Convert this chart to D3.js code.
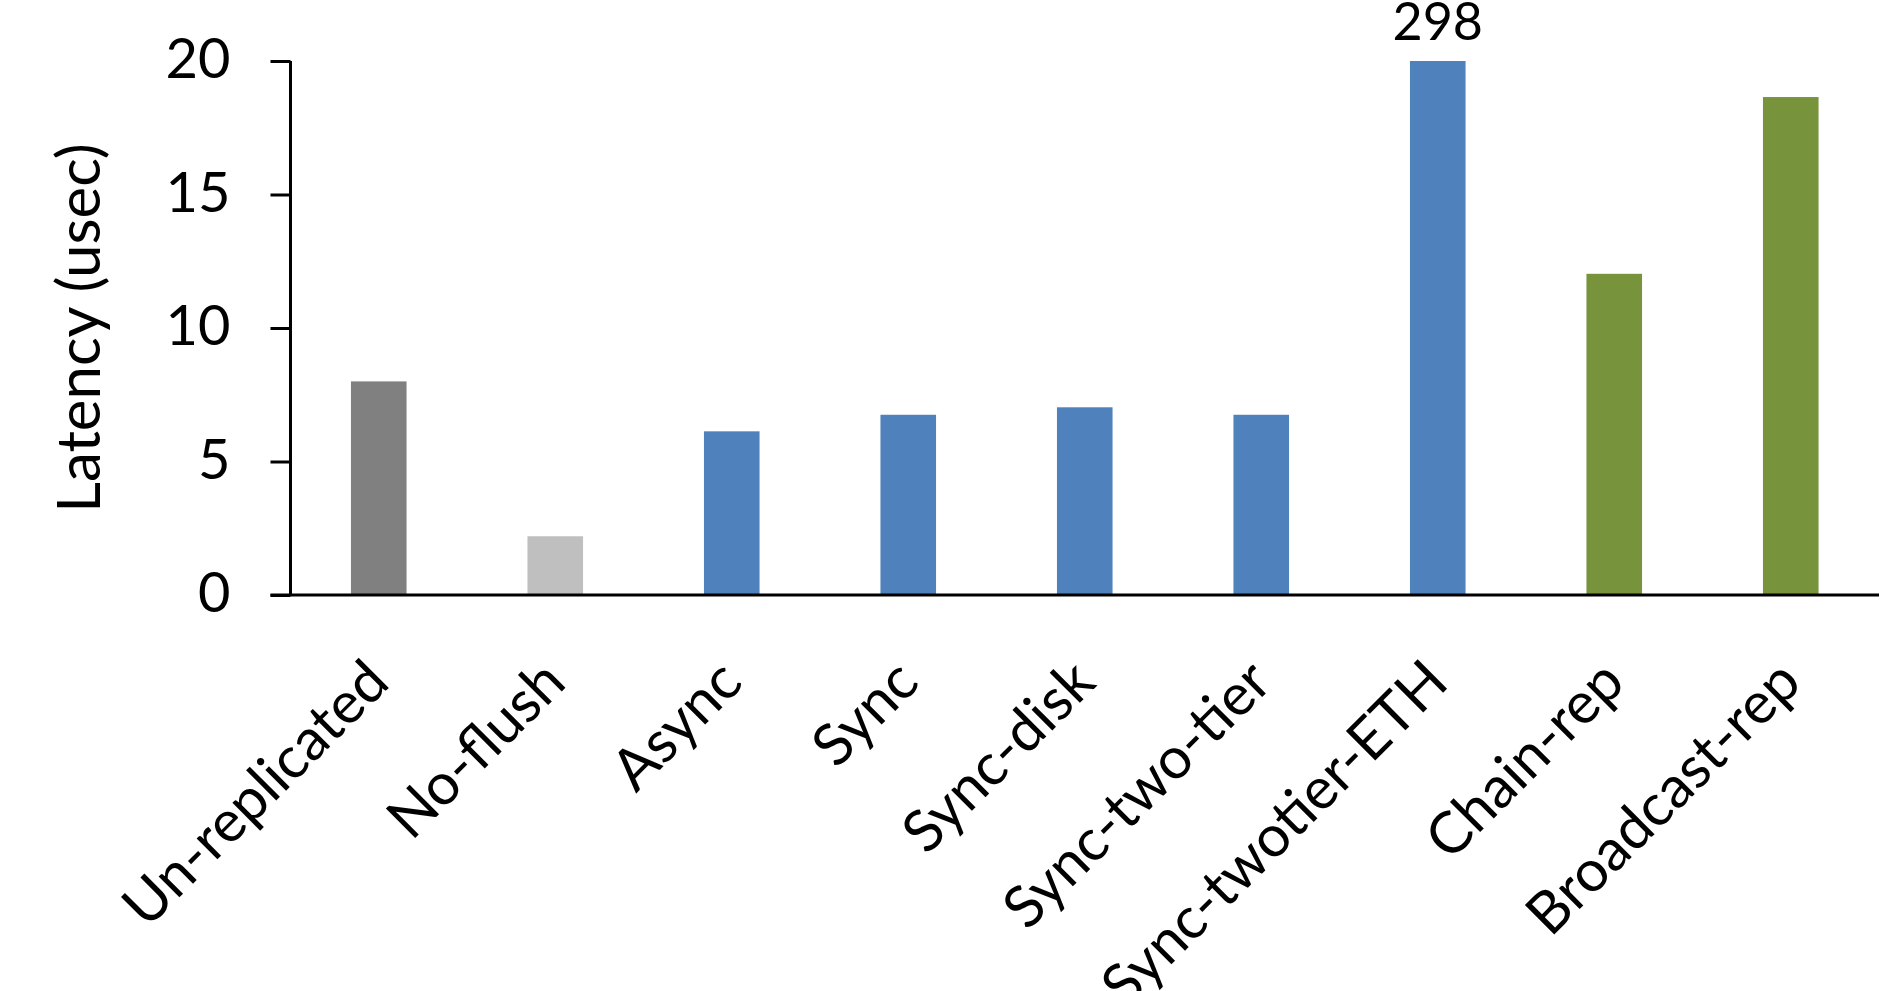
<!DOCTYPE html>
<html>
<head>
<meta charset="utf-8">
<script src="https://cdn.jsdelivr.net/npm/d3@7"></script>
<style>
  body { margin: 0; background: #fff; }
  text { font-family: Lato, "Open Sans", sans-serif; fill: #000; }
</style>
</head>
<body>
<div id="chart"></div>
<script>
// categories and values (latency, usec)
const categories = ["Un-replicated", "No-flush", "Async", "Sync", "Sync-disk",
  "Sync-two-tier", "Sync-twotier-ETH", "Chain-rep", "Broadcast-rep"];
const latency = [8.0, 2.2, 6.13, 6.75, 7.03, 6.75, 20, 12.03, 18.65];
const groups = ["base", "noflush", "sync", "sync", "sync", "sync", "sync", "rep", "rep"];
const barLabels = ["", "", "", "", "", "", "298", "", ""];
const yTicks = [0, 5, 10, 15, 20];

const colors = {base: "#808080", noflush: "#bfbfbf", sync: "#4f81bd", rep: "#77933c"};

const width = 1901, height = 991;
const margin = {top: 61, right: 22, bottom: 396, left: 290.5};
const w = width - margin.left - margin.right;
const h = height - margin.top - margin.bottom;

const data = categories.map((c, i) => ({name: c, value: latency[i], group: groups[i], label: barLabels[i]}));

const svg = d3.select("#chart").append("svg")
  .attr("width", width)
  .attr("height", height);

const g = svg.append("g")
  .attr("transform", "translate(" + margin.left + "," + margin.top + ")");

const x = d3.scaleBand()
  .domain(categories)
  .range([0, w])
  .paddingInner(0.685)
  .paddingOuter(0.3425);

const y = d3.scaleLinear()
  .domain([0, 20])
  .range([h, 0]);

// bars
g.selectAll(".bar")
  .data(data)
  .enter().append("rect")
  .attr("class", "bar")
  .attr("x", d => x(d.name))
  .attr("y", d => y(d.value))
  .attr("width", x.bandwidth())
  .attr("height", d => h - y(d.value))
  .attr("fill", d => colors[d.group]);

// value label on the clipped bar
g.selectAll(".val")
  .data(data.filter(d => d.label))
  .enter().append("text")
  .attr("class", "val")
  .attr("x", d => x(d.name) + x.bandwidth() / 2)
  .attr("y", d => y(d.value) - 21)
  .attr("text-anchor", "middle")
  .style("font-size", "52px")
  .text(d => d.label);

// y axis
const yAxis = d3.axisLeft(y).tickValues(yTicks).tickSize(20).tickPadding(40);
const yg = g.append("g").call(yAxis);
yg.select(".domain").attr("stroke", "#000").attr("stroke-width", 3)
  .attr("d", "M0," + h + "V0");
yg.selectAll(".tick line").attr("stroke", "#000").attr("stroke-width", 3);
yg.selectAll(".tick text").style("font-size", "56px").attr("dy", "0.3em");

// x axis
const xg = g.append("g").attr("transform", "translate(0," + h + ")")
  .call(d3.axisBottom(x).tickSize(0).tickPadding(0));
xg.select(".domain").attr("stroke", "#000").attr("stroke-width", 3)
  .attr("d", "M-20,0H" + w);
xg.selectAll(".tick text")
  .style("font-size", "58px")
  .attr("text-anchor", "end")
  .attr("dy", 0)
  .attr("transform", "translate(13,90) rotate(-45)");

// y axis title
svg.append("text")
  .attr("transform", "translate(100,328) rotate(-90)")
  .attr("text-anchor", "middle")
  .style("font-size", "60px")
  .text("Latency (usec)");
</script>
</body>
</html>
